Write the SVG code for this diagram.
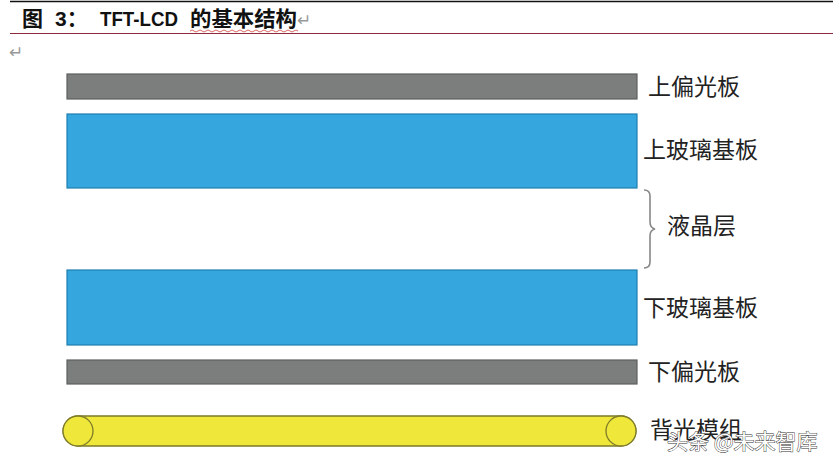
<svg xmlns="http://www.w3.org/2000/svg" width="833" height="471" viewBox="0 0 833 471">
<style>
.lbl{font-family:"Liberation Serif","Noto Sans CJK SC",serif;font-size:23px;fill:#222}
.pol{fill:#7c7e7e;stroke:#5e6060;stroke-width:1.2}
.glass{fill:#36a6de;stroke:#1f7fb0;stroke-width:1.2}
.bl{fill:#efe83a;stroke:#7d7a2a;stroke-width:1.3}
.ttl{font-family:"Liberation Sans","Noto Sans CJK SC",sans-serif;font-size:21px;font-weight:bold;fill:#111}
</style>
<rect width="833" height="471" fill="#fff"/>
<g id="header">
<line x1="10" y1="1.5" x2="833" y2="1.5" stroke="#111" stroke-width="1.5"/>
<text class="ttl" y="26"><tspan x="22">图</tspan><tspan x="55">3：</tspan><tspan x="100" textLength="78" lengthAdjust="spacingAndGlyphs">TFT-LCD</tspan><tspan x="190" textLength="107" lengthAdjust="spacingAndGlyphs">的基本结构</tspan><tspan x="297" fill="#999" font-weight="normal" font-family="'DejaVu Sans',sans-serif" font-size="17">↵</tspan></text>
<path d="M190 31 q2 -2 4 0 t4 0 t4 0 t4 0 t4 0 t4 0 t4 0 t4 0 t4 0 t4 0 t4 0 t4 0 t4 0 t4 0 t4 0 t4 0 t4 0 t4 0 t4 0 t4 0 t4 0 t4 0 t4 0 t4 0 t4 0 t4 0 t4 0" fill="none" stroke="#d04040" stroke-width="0.8"/>
<line x1="10" y1="33.5" x2="833" y2="33.5" stroke="#8a2a3a" stroke-width="1.2"/>
<text x="9" y="58" font-family="'DejaVu Sans',sans-serif" font-size="17" fill="#999">↵</text>
</g>
<g id="upper-polarizer">
<rect class="pol" x="67" y="74" width="570" height="25"/>
<text class="lbl" x="648" y="95">上偏光板</text>
</g>
<g id="upper-glass">
<rect class="glass" x="67" y="114" width="570" height="74"/>
<text class="lbl" x="643" y="158">上玻璃基板</text>
</g>
<g id="liquid-crystal">
<path d="M644 190 q6 0 6 6 v26 q0 6 5 7 q-5 1 -5 7 v26 q0 6 -6 6" fill="none" stroke="#888" stroke-width="1.6"/>
<text class="lbl" x="667" y="234">液晶层</text>
</g>
<g id="lower-glass">
<rect class="glass" x="67" y="270" width="570" height="75"/>
<text class="lbl" x="643" y="316">下玻璃基板</text>
</g>
<g id="lower-polarizer">
<rect class="pol" x="67" y="360" width="570" height="24"/>
<text class="lbl" x="648" y="380">下偏光板</text>
</g>
<g id="backlight">
<path class="bl" d="M78 416 H621 A15 15 0 0 1 621 446 H78 A15 15 0 0 1 78 416 Z"/>
<circle class="bl" cx="78" cy="431" r="15"/>
<circle class="bl" cx="621" cy="431" r="15"/>
<text class="lbl" x="650" y="438">背光模组</text>
</g>
<g id="watermark">
<text x="667" y="449" font-family="'Noto Sans CJK SC',sans-serif" font-size="21" fill="#fff" stroke="#333" stroke-width="0.9" paint-order="stroke">头条 @未来智库</text>
</g>
</svg>
